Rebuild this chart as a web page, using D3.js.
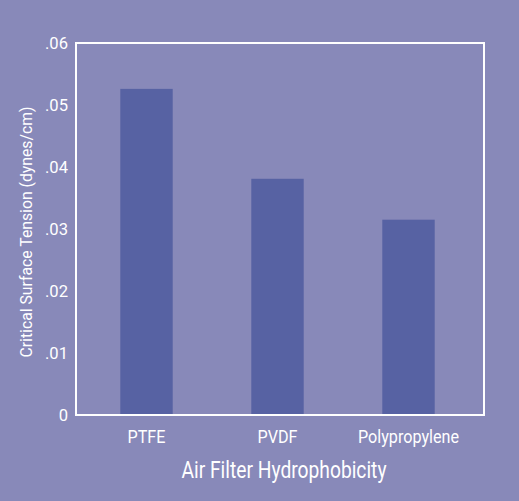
<!DOCTYPE html>
<html><head><meta charset="utf-8">
<script src="https://cdn.jsdelivr.net/npm/d3@7"></script>
<style>
html,body{margin:0;padding:0;background:#8889b9;}
svg{display:block;}
text{font-family:Roboto,"Liberation Sans","DejaVu Sans Condensed",sans-serif;fill:#fff;}
</style></head>
<body>
<script>
const categories = ["PTFE", "PVDF", "Polypropylene"];
const values = [0.0526, 0.0381, 0.0315];
const yTicks = [0, 0.01, 0.02, 0.03, 0.04, 0.05, 0.06];
const yTickLabels = ["0", ".01", ".02", ".03", ".04", ".05", ".06"];
const xTitle = "Air Filter Hydrophobicity";
const yTitle = "Critical Surface Tension (dynes/cm)";

const W = 519, H = 501;
const svg = d3.select("body").append("svg").attr("width", W).attr("height", H);
svg.append("rect").attr("x",0).attr("y",0).attr("width",W).attr("height",H).attr("fill","#8889b9");

const plot = {left:76, right:484, top:43, bottom:415};
const y = d3.scaleLinear().domain([0, 0.06]).range([plot.bottom, plot.top]);
const x = d3.scaleBand().domain(categories).range([81, 474]).paddingInner(0.6).paddingOuter(0.3);

svg.selectAll("rect.bar").data(categories).enter().append("rect")
  .attr("class","bar")
  .attr("x", d => x(d))
  .attr("width", x.bandwidth())
  .attr("y", (d,i) => y(values[i]))
  .attr("height", (d,i) => y(0) - y(values[i]))
  .attr("fill", "#5762a3");

svg.append("rect").attr("x", plot.left).attr("y", plot.top)
  .attr("width", plot.right - plot.left).attr("height", plot.bottom - plot.top)
  .attr("fill","none").attr("stroke","#fff").attr("stroke-width",2);

// condense text horizontally (reference uses a condensed face)
function condense(sel, factor) {
  sel.each(function() {
    const n = this.getComputedTextLength();
    d3.select(this).attr("textLength", n * factor).attr("lengthAdjust", "spacingAndGlyphs");
  });
}

const yt = svg.selectAll("text.ytick").data(yTicks).enter().append("text")
  .attr("class","ytick")
  .attr("x", 68).attr("y", d => y(d) + 6)
  .attr("text-anchor","end").attr("font-size", 17)
  .text((d,i) => yTickLabels[i]);
const ref06 = yt.filter(d => d === 0.06).node().getComputedTextLength();
condense(yt, 23 / ref06);

const xt = svg.selectAll("text.xtick").data(categories).enter().append("text")
  .attr("class","xtick")
  .attr("x", d => x(d) + x.bandwidth()/2).attr("y", 443)
  .attr("text-anchor","middle").attr("font-size", 18)
  .text(d => d);
const refPoly = xt.filter(d => d === "Polypropylene").node().getComputedTextLength();
condense(xt, 101 / refPoly);

const xTitleEl = svg.append("text").attr("x", 284).attr("y", 478)
  .attr("text-anchor","middle").attr("font-size", 24).text(xTitle);
condense(xTitleEl, 205 / xTitleEl.node().getComputedTextLength());

const yTitleEl = svg.append("text").attr("transform","translate(32,232) rotate(-90)")
  .attr("text-anchor","middle").attr("font-size", 17).text(yTitle);
condense(yTitleEl, 251 / yTitleEl.node().getComputedTextLength());
</script>
</body></html>
